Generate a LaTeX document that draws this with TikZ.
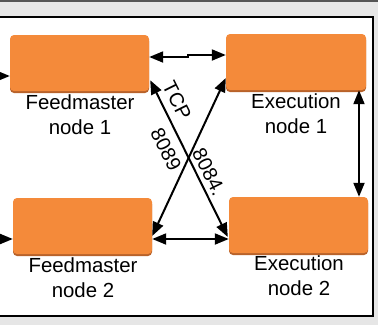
\documentclass[tikz,border=0pt]{standalone}
\usepackage{fontspec}
\setmainfont{Liberation Sans}
\usetikzlibrary{arrows.meta,shadows}

\definecolor{pagegray}{HTML}{E6E6E6}
\definecolor{rulegray}{HTML}{555555}
\definecolor{boxorange}{HTML}{F48A3A}
\definecolor{boxedge}{HTML}{B8622A}

\tikzset{
  srvbox/.style={rectangle, rounded corners=4pt, fill=boxorange,
    minimum width=139pt, minimum height=56pt, inner sep=0pt,
    general shadow={shadow xshift=0pt, shadow yshift=-2pt, fill=boxedge}},
  caption/.style={align=center, font=\fontsize{20.4}{25}\selectfont, inner sep=0pt},
  portlabel/.style={font=\fontsize{20}{22}\selectfont, inner sep=0pt, rotate=-63.6},
  link/.style={line width=2pt, -{Triangle[length=14pt,width=11pt]}},
  duplex/.style={line width=2pt, {Triangle[length=14pt,width=11pt]}-{Triangle[length=14pt,width=11pt]}},
}

\begin{document}
\begin{tikzpicture}[x=1pt,y=-1pt]
\useasboundingbox (0,0) rectangle (378,325);
% window background and panel
\fill[pagegray] (0,0) rectangle (378,325);
\fill[rulegray] (0,0) rectangle (378,1.6);
\draw[line width=2pt, fill=white] (-5,17) rectangle (373,316);

% server boxes
\node[srvbox] (fm1) at (79.5,63) {};
\node[srvbox, minimum width=140pt] (ex1) at (296,62) {};
\node[srvbox] (fm2) at (82.5,226) {};
\node[srvbox] (ex2) at (298.5,225) {};

% captions
\node[caption] (cfm1) at (80,115) {Feedmaster\\node 1};
\node[caption] (cex1) at (296,113.3) {Execution\\node 1};
\node[caption] (cfm2) at (83,278) {Feedmaster\\node 2};
\node[caption] (cex2) at (299,276) {Execution\\node 2};

% incoming feeds
\coordinate (in1) at (-5,76);
\coordinate (in2) at (-5,239);
\draw[link] (in1) -- ([yshift=-13pt]fm1.west);
\draw[link] (in2) -- ([yshift=-13pt]fm2.west);

% links between nodes
\draw[duplex] ([yshift=6pt]fm1.east) -- ++(39,0) |- ([yshift=7pt]ex1.west);
\coordinate (fm2r) at ([yshift=-13pt]fm2.east);
\draw[duplex] (fm2r) -- (fm2r -| ex2.west);
\coordinate (ex1b) at ([xshift=63pt]ex1.south);
\draw[duplex] (ex1b) -- (ex1b |- ex2.north);

% cross links
\coordinate (x1a) at ([shift={(1,-11)}]fm1.south east);
\coordinate (x1b) at ([shift={(-1,12)}]ex2.west);
\draw[duplex] (x1a) -- (x1b);
\coordinate (x2a) at ([shift={(0,10)}]fm2.east);
\coordinate (x2b) at ([shift={(0,16)}]ex1.west);
\draw[duplex] (x2a) -- (x2b);

% port labels
\node[portlabel] (ltcp) at (177,100) {TCP};
\node[portlabel] (lp1) at (166,149) {8089};
\node[portlabel] (lp2) at (209,172) {8084.};
\end{tikzpicture}
\end{document}
